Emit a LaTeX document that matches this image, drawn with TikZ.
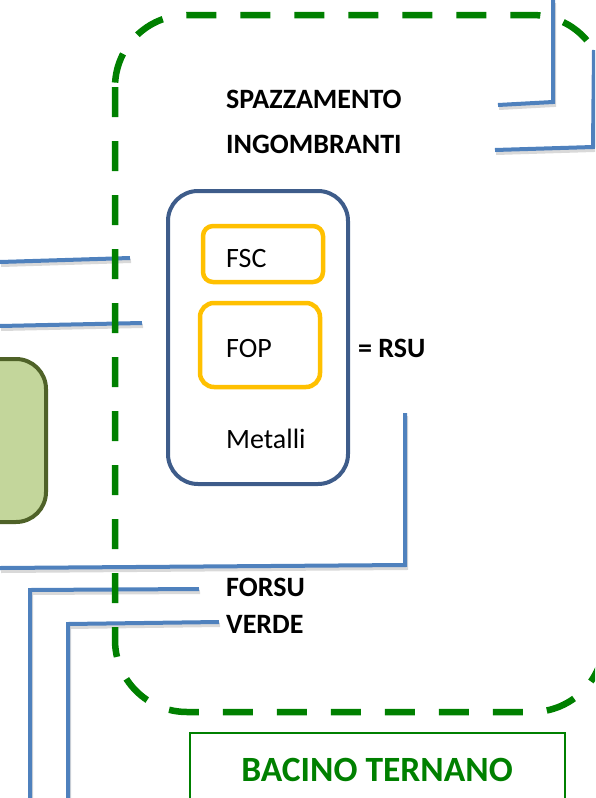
\documentclass[tikz,border=0pt]{standalone}
\usepackage{fontspec}
\setmainfont{Carlito}
\definecolor{zonegreen}{RGB}{0,128,0}
\definecolor{cableblue}{RGB}{79,129,189}
\definecolor{rsublue}{RGB}{62,92,138}
\definecolor{fracorange}{RGB}{255,192,0}
\definecolor{olivefill}{RGB}{195,214,155}
\definecolor{olivedraw}{RGB}{79,98,40}
\tikzset{
  cable/.style={draw=cableblue, line width=4pt,
    preaction={draw=black!15, line width=4pt, transform canvas={shift={(1pt,-3pt)}}}},
  zone/.style={draw=zonegreen, line width=6.5pt, dash pattern=on 30pt off 24pt, rounded corners=72pt},
  lbl/.style={anchor=base west, inner sep=0pt, font=\fontsize{28}{32}\selectfont},
  boldlbl/.style={lbl, font=\fontsize{28}{32}\selectfont\bfseries},
}
\begin{document}
\begin{tikzpicture}[x=1pt,y=-1pt]
\clip (0,0) rectangle (595,798);
% linee di raccolta
\draw[cable] (553,0) -- (553,102) -- (498,105);
\draw[cable] (594,50) -- (593,147) -- (495,150);
\draw[cable] (0,262) -- (130,258);
\draw[cable] (0,326) -- (142,323);
\draw[cable] (0,568) -- (405,565) -- (405,413);
\draw[cable] (199,589) -- (30,590) -- (30,798);
\draw[cable] (219,622) -- (68,624) -- (68,798);
% box a sinistra
\draw[olivedraw,fill=olivefill,line width=4pt,rounded corners=30pt] (-60,359) rectangle (46,522);
% RSU
\draw[rsublue,line width=4pt,rounded corners=30pt] (168,191) rectangle (348,484);
\draw[fracorange,line width=4.5pt,rounded corners=10pt] (203,226) rectangle (323,282);
\draw[fracorange,line width=4.5pt,rounded corners=14pt] (200,303) rectangle (320,387);
\node[lbl] (fsc) at (226,267) {FSC};
\node[lbl] (fop) at (226,357) {FOP};
\node[lbl] (metalli) at (226,448) {Metalli};
\node[boldlbl] (rsu) at (358,357) {= RSU};
% flussi
\node[boldlbl] (spazz) at (226,108) {SPAZZAMENTO};
\node[boldlbl] (ingomb) at (226,153) {INGOMBRANTI};
\node[boldlbl] (forsu) at (226,596) {FORSU};
\node[boldlbl] (verde) at (226,633) {VERDE};
% bacino
\draw[zone] (115,15) rectangle (604,712);
\draw[zonegreen,line width=2pt] (190,733) rectangle (565,820);
\node[anchor=base, inner sep=0pt, text=zonegreen, font=\fontsize{35.5}{40}\selectfont\bfseries] (bacino) at (377,781) {BACINO TERNANO};
\end{tikzpicture}
\end{document}
